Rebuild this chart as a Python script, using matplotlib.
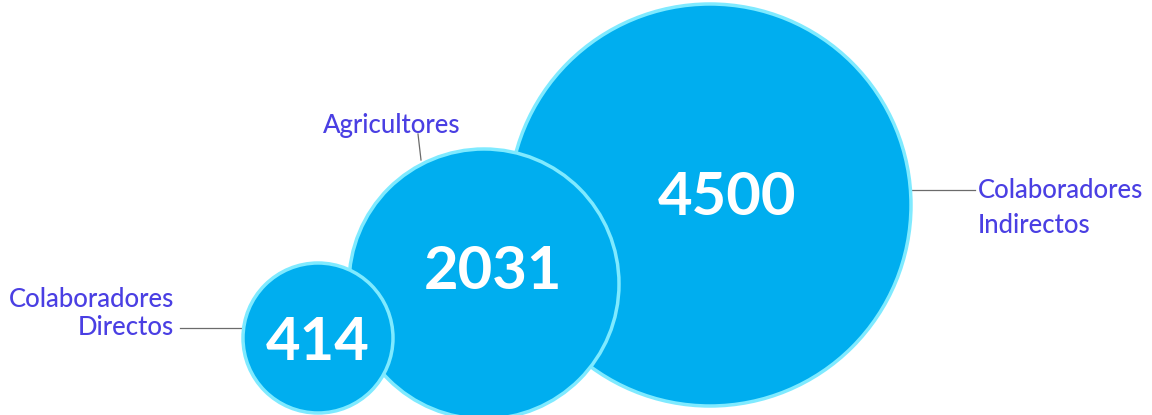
import matplotlib
matplotlib.use('Agg')
import matplotlib.pyplot as plt
from matplotlib.patches import Circle

# data
categories = ["Colaboradores\nDirectos", "Agricultores", "Colaboradores\nIndirectos"]
values = [414, 2031, 4500]

# layout (pixel space of the 1152x415 canvas)
centers = [(318, 338), (484, 284), (710, 205)]
radii = [75, 135, 201]
number_pos = [(318, 343), (493, 272), (727, 198)]
label_pos = [(174, 313), (392, 125), (978, 208)]
label_ha = ['right', 'center', 'left']
label_spacing = [1.15, 1.2, 1.5]
leaders = [((180, 244), (328, 328)), ((418, 421), (134, 160)), ((910, 975), (190, 190))]

FILL = '#00AEEF'
EDGE = '#7FEAFF'
TEXT = '#4A3FE3'

plt.rcParams['font.family'] = ['Lato', 'DejaVu Sans']

fig = plt.figure(figsize=(11.52, 4.15), dpi=100)
ax = fig.add_axes([0, 0, 1, 1])
ax.set_xlim(0, 1152)
ax.set_ylim(415, 0)
ax.set_aspect('equal')
ax.axis('off')

# smaller circles sit on top of bigger ones
order = sorted(range(len(values)), key=lambda k: -radii[k])
for z, i in enumerate(order):
    ax.add_patch(Circle(centers[i], radii[i], facecolor=FILL, edgecolor=EDGE,
                        linewidth=2.5, zorder=2 + z))
    ax.text(number_pos[i][0], number_pos[i][1], str(values[i]), color='white',
            fontsize=43, fontweight='bold', ha='center', va='center', zorder=10)

for (xs, ys) in leaders:
    ax.plot(xs, ys, color='#6b6b6b', linewidth=0.9, zorder=1)

for name, (x, y), ha, ls in zip(categories, label_pos, label_ha, label_spacing):
    ax.text(x, y, name, color=TEXT, fontsize=18.5, fontweight='medium', ha=ha,
            va='center', multialignment=ha, linespacing=ls, zorder=10)

fig.savefig('out.png', dpi=100)
